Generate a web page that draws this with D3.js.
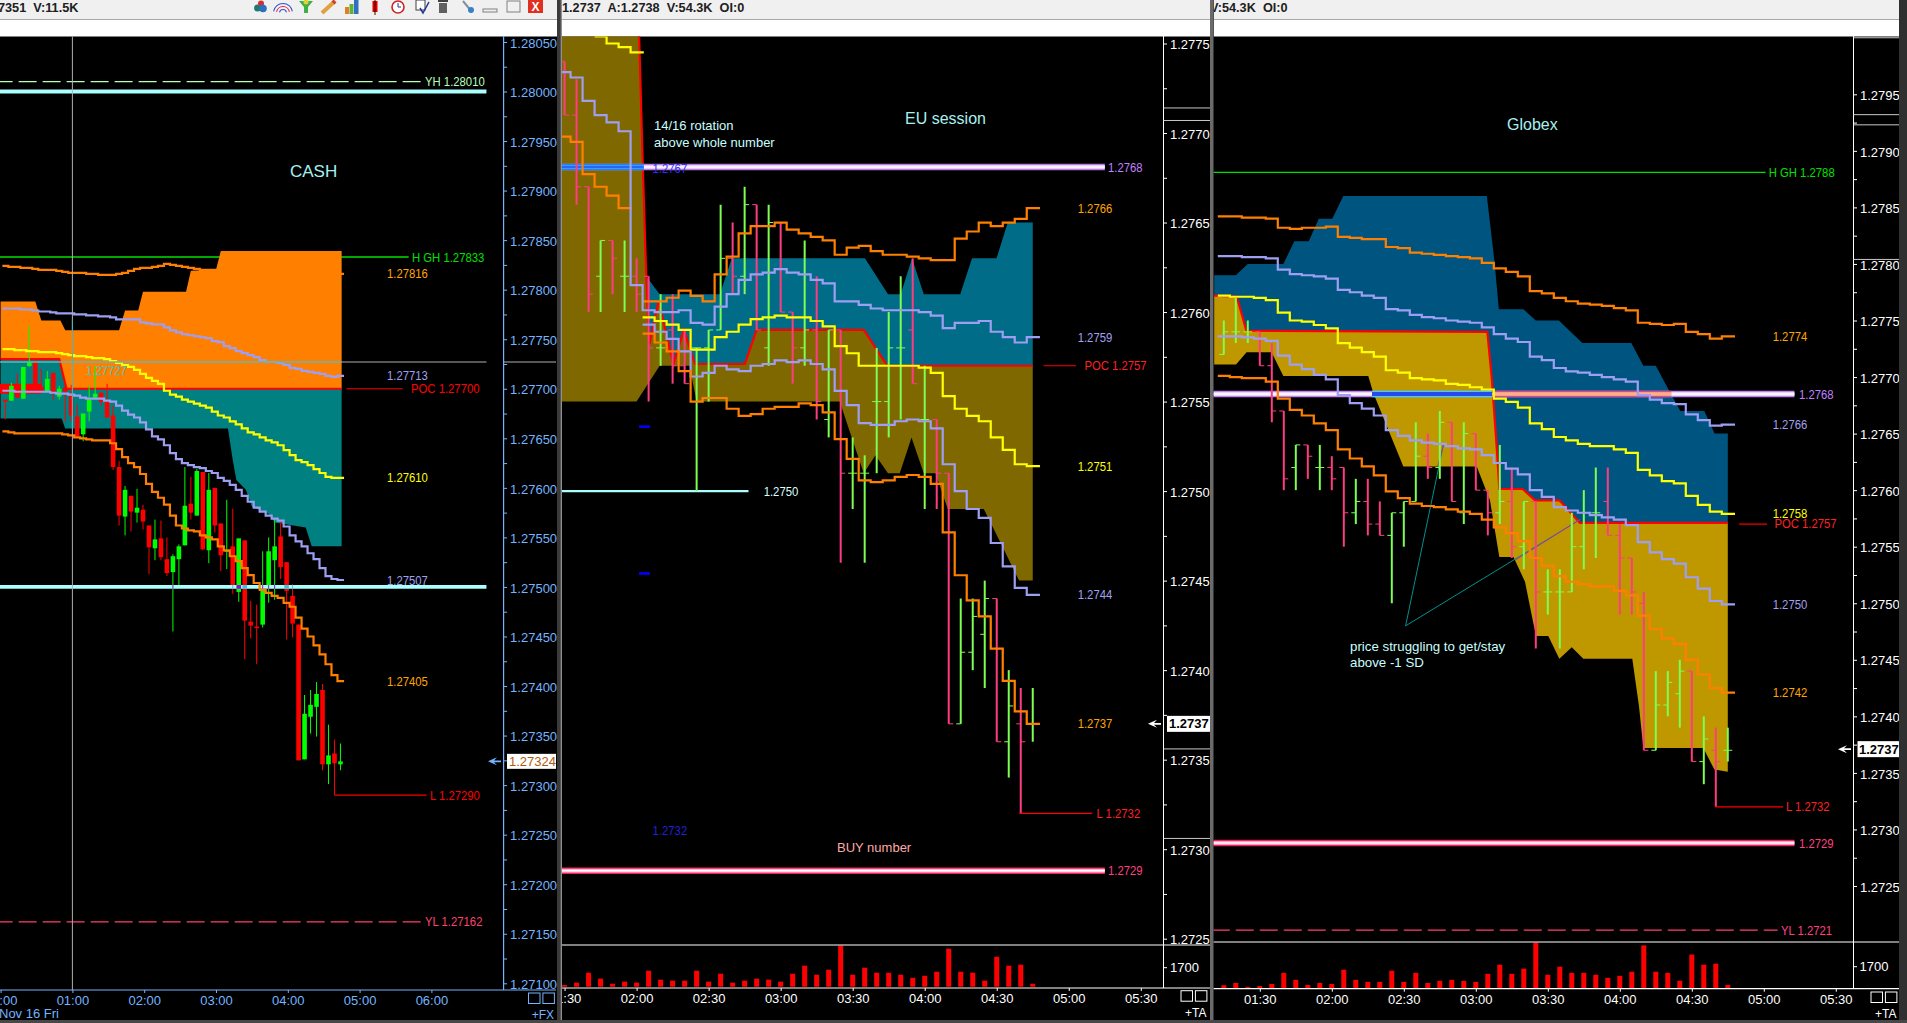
<!DOCTYPE html>
<html>
<head>
<meta charset="utf-8">
<title>EURUSD sessions</title>
<script src="https://cdn.jsdelivr.net/npm/d3@7"></script>
<style>
html, body { margin: 0; padding: 0; background: #000; overflow: hidden; }
svg { display: block; }
text { font-family: "Liberation Sans", Arial, sans-serif; }
</style>
</head>
<body>
<div id="chart"></div>
<script>
// ---- CASH panel (5 min candles, open high low close)
var cashBars = [
[1.27689,1.27689,1.27669,1.27687],[1.27688,1.27706,1.27688,1.27703],[1.27704,1.27715,1.27691,1.27691],[1.27690,1.27722,1.27690,1.27722],
[1.27723,1.27763,1.27722,1.27727],[1.27727,1.27730,1.27702,1.27702],[1.27702,1.27720,1.27697,1.27697],[1.27697,1.27718,1.27697,1.27710],
[1.27716,1.27716,1.27689,1.27697],[1.27692,1.27703,1.27689,1.27700],[1.27701,1.27702,1.27667,1.27697],[1.27693,1.27704,1.27667,1.27673],
[1.27672,1.27684,1.27652,1.27652],[1.27654,1.27675,1.27647,1.27675],[1.27677,1.27703,1.27667,1.27689],[1.27691,1.27723,1.27690,1.27695],
[1.27696,1.27697,1.27683,1.27687],[1.27687,1.27705,1.27671,1.27671],[1.27673,1.27683,1.27618,1.27621],[1.27621,1.27627,1.27562,1.27572],
[1.27571,1.27602,1.27552,1.27598],[1.27592,1.27592,1.27556,1.27576],[1.27575,1.27599,1.27565,1.27580],[1.27578,1.27583,1.27558,1.27566],
[1.27562,1.27562,1.27513,1.27540],[1.27539,1.27568,1.27527,1.27548],[1.27549,1.27567,1.27527,1.27530],[1.27528,1.27550,1.27511,1.27514],
[1.27515,1.27533,1.27455,1.27531],[1.27528,1.27543,1.27501,1.27541],[1.27542,1.27621,1.27542,1.27582],[1.27584,1.27611,1.27568,1.27575],
[1.27572,1.27619,1.27572,1.27617],[1.27616,1.27616,1.27537,1.27538],[1.27537,1.27615,1.27524,1.27598],[1.27600,1.27600,1.27555,1.27562],
[1.27564,1.27564,1.27516,1.27532],[1.27536,1.27588,1.27518,1.27537],[1.27541,1.27579,1.27493,1.27502],[1.27495,1.27549,1.27485,1.27549],
[1.27547,1.27547,1.27427,1.27466],[1.27465,1.27486,1.27448,1.27461],[1.27460,1.27482,1.27422,1.27459],[1.27462,1.27536,1.27459,1.27497],
[1.27501,1.27550,1.27484,1.27536],[1.27527,1.27569,1.27487,1.27541],[1.27551,1.27567,1.27508,1.27520],[1.27525,1.27525,1.27447,1.27496],
[1.27491,1.27503,1.27449,1.27463],[1.27462,1.27462,1.27325,1.27325],[1.27326,1.27391,1.27326,1.27372],[1.27369,1.27396,1.27352,1.27381],
[1.27379,1.27404,1.27349,1.27392],[1.27396,1.27402,1.27315,1.27321],[1.27321,1.27361,1.27301,1.27330],[1.27332,1.27346,1.27290,1.27322],
[1.27321,1.27342,1.27315,1.27324]];
var cashOrangeUp = [1.27824,1.27823,1.27823,1.27822,1.27822,1.27821,1.27820,1.27820,1.27820,1.27819,1.27818,1.27817,1.27817,1.27817,1.27816,1.27816,1.27815,1.27815,1.27815,1.27816,1.27817,1.27819,1.27821,1.27822,1.27822,1.27823,1.27824,1.27826,1.27825,1.27824,1.27823,1.27822,1.27821,1.27820,1.27820,1.27820,1.27820,1.27820,1.27819,1.27819,1.27819,1.27818,1.27818,1.27818,1.27818,1.27817,1.27817,1.27817,1.27817,1.27817,1.27816,1.27816,1.27816,1.27816,1.27816,1.27816,1.27816];
var cashLavUp = [1.27781,1.27781,1.27781,1.27780,1.27780,1.27779,1.27778,1.27778,1.27777,1.27776,1.27776,1.27776,1.27775,1.27775,1.27774,1.27774,1.27773,1.27773,1.27772,1.27770,1.27770,1.27770,1.27770,1.27767,1.27766,1.27765,1.27765,1.27762,1.27759,1.27757,1.27755,1.27754,1.27753,1.27752,1.27751,1.27748,1.27747,1.27743,1.27741,1.27738,1.27736,1.27734,1.27732,1.27729,1.27727,1.27727,1.27726,1.27724,1.27721,1.27720,1.27718,1.27717,1.27716,1.27715,1.27713,1.27712,1.27713];
var cashYellow = [1.27740,1.27740,1.27739,1.27739,1.27738,1.27738,1.27737,1.27737,1.27737,1.27736,1.27735,1.27734,1.27733,1.27733,1.27732,1.27731,1.27731,1.27730,1.27728,1.27726,1.27724,1.27722,1.27719,1.27715,1.27711,1.27708,1.27705,1.27698,1.27694,1.27692,1.27689,1.27687,1.27685,1.27683,1.27681,1.27677,1.27673,1.27671,1.27667,1.27664,1.27660,1.27656,1.27654,1.27651,1.27648,1.27646,1.27643,1.27638,1.27633,1.27628,1.27626,1.27623,1.27619,1.27615,1.27611,1.27610,1.27610];
var cashLavDown = [1.27698,1.27698,1.27697,1.27697,1.27697,1.27697,1.27697,1.27697,1.27696,1.27695,1.27695,1.27694,1.27693,1.27691,1.27690,1.27690,1.27690,1.27688,1.27687,1.27683,1.27678,1.27674,1.27671,1.27666,1.27659,1.27652,1.27649,1.27643,1.27635,1.27629,1.27625,1.27623,1.27621,1.27620,1.27617,1.27615,1.27610,1.27607,1.27603,1.27598,1.27592,1.27586,1.27580,1.27576,1.27572,1.27569,1.27567,1.27561,1.27552,1.27546,1.27541,1.27534,1.27528,1.27519,1.27511,1.27508,1.27507];
var cashOrangeDown = [1.27657,1.27656,1.27655,1.27655,1.27655,1.27655,1.27655,1.27655,1.27655,1.27655,1.27654,1.27653,1.27651,1.27650,1.27649,1.27648,1.27648,1.27648,1.27645,1.27639,1.27631,1.27625,1.27621,1.27614,1.27604,1.27596,1.27590,1.27583,1.27572,1.27562,1.27559,1.27557,1.27556,1.27552,1.27550,1.27548,1.27541,1.27537,1.27531,1.27526,1.27519,1.27512,1.27504,1.27497,1.27494,1.27491,1.27489,1.27484,1.27480,1.27469,1.27458,1.27450,1.27441,1.27432,1.27422,1.27411,1.27405];
// profile band, [minute, price]
var cashBandTop = [[0,1.27788],[29,1.27788],[34,1.27769],[50,1.27769],[54,1.27759],[99,1.27759],[104,1.27779],[115,1.27779],[119,1.27798],[155,1.27798],[159,1.27819],[180,1.2782],[184,1.27839],[285,1.27839]];
var cashBandPoc = [[0,1.2773],[49,1.2773],[55,1.277],[285,1.277]];
var cashBandLow = [[0,1.2767],[51,1.2767],[54,1.2766],[190,1.2766],[194,1.27628],[197,1.27608],[205,1.27598],[210,1.27581],[225,1.27573],[229,1.27565],[255,1.2756],[260,1.27541],[285,1.27541]];
var cashTicks = [1.2805,1.28,1.2795,1.279,1.2785,1.278,1.2775,1.277,1.2765,1.276,1.2755,1.275,1.2745,1.274,1.2735,1.273,1.2725,1.272,1.2715,1.271];
var cashTimes = [0,60,120,180,240,300,360];
var cashTimeLabels = ["00:00","01:00","02:00","03:00","04:00","05:00","06:00"];
var cashLabelText = ["YH 1.28010","H GH 1.27833","1.27816","1.27713","POC 1.27700","1.27610","1.27507","1.27405","L 1.27290","YL 1.27162"];
var cashLabelPrice = [1.2801,1.27833,1.27816,1.27713,1.277,1.2761,1.27507,1.27405,1.2729,1.27162];

// ---- EU session panel
var euBars = [
[1.2774,1.2774,1.2771,1.2771],[1.2771,1.2773,1.2766,1.2767],[1.2767,1.2767,1.2760,1.2761],[1.2762,1.2764,1.2760,1.2764],[1.2764,1.2764,1.2761,1.2763],
[1.2762,1.2764,1.2760,1.2762],[1.2762,1.2763,1.2760,1.2761],[1.2762,1.2762,1.2755,1.2758],[1.2758,1.2761,1.2757,1.2758],[1.2759,1.2761,1.2756,1.2757],
[1.2757,1.2759,1.2756,1.2756],[1.2758,1.2758,1.2750,1.2758],[1.2758,1.2759,1.2755,1.2759],[1.2759,1.2766,1.2759,1.2763],[1.2763,1.2765,1.2761,1.2762],
[1.2762,1.2767,1.2761,1.2766],[1.2766,1.2766,1.2759,1.2759],[1.2758,1.2766,1.2757,1.2765],[1.2765,1.2765,1.2760,1.2760],[1.2760,1.2760,1.2756,1.2758],
[1.2758,1.2764,1.2757,1.2759],[1.2759,1.2762,1.2754,1.2755],[1.2754,1.2759,1.2753,1.2759],[1.2759,1.2759,1.2746,1.2751],[1.2751,1.2753,1.2749,1.2751],
[1.2751,1.2752,1.2746,1.2751],[1.2755,1.2758,1.2751,1.2755],[1.2755,1.2760,1.2753,1.2758],[1.2758,1.2762,1.2754,1.2758],[1.2759,1.2763,1.2756,1.2756],
[1.2754,1.2757,1.2749,1.2754],[1.2754,1.2754,1.2749,1.2751],[1.2751,1.2751,1.2737,1.2737],[1.2737,1.2744,1.2737,1.2741],[1.2741,1.2744,1.2740,1.2743],
[1.2742,1.2745,1.2739,1.2744],[1.2744,1.2744,1.2736,1.2736],[1.2736,1.2740,1.2734,1.2738],[1.2737,1.2739,1.2732,1.2736],[1.2737,1.2739,1.2736,1.2737]];
var euOrangePre = [1.27698,1.27695,1.27677,1.2767,1.27665,1.27658];
var euYellowPre = [1.27754,1.2775,1.27748,1.27745];
var euOrangeUp = [1.27606,1.27606,1.27608,1.27612,1.27609,1.27606,1.27621,1.27631,1.27644,1.27648,1.27648,1.27650,1.27646,1.27644,1.27642,1.27640,1.27632,1.27636,1.27637,1.27634,1.27632,1.27632,1.27631,1.27630,1.27629,1.27629,1.27641,1.27645,1.2765,1.27648,1.2765,1.27652,1.27658];
var euLavUp = [1.27734,1.27731,1.27718,1.2771,1.27706,1.27701,1.27615,1.27601,1.276,1.276,1.27601,1.27594,1.27593,1.27603,1.2761,1.27618,1.27621,1.27622,1.27624,1.27622,1.27621,1.27618,1.27616,1.27606,1.27606,1.27604,1.27602,1.27601,1.27601,1.27601,1.276,1.27598,1.27591,1.27594,1.27594,1.27595,1.27589,1.27586,1.27583,1.27586];
var euYellow = [1.27597,1.27595,1.27593,1.2759,1.27579,1.27579,1.27586,1.27589,1.27593,1.27596,1.27597,1.27598,1.27597,1.27597,1.27595,1.27592,1.27581,1.27577,1.2757,1.27570,1.2757,1.2757,1.2757,1.27569,1.27566,1.27553,1.27546,1.27542,1.27539,1.2753,1.27523,1.27515,1.27514];
var euLavDown = [1.27593,1.27589,1.27585,1.27578,1.27564,1.27566,1.2757,1.27568,1.27567,1.2757,1.27571,1.27573,1.27572,1.27573,1.27571,1.27568,1.27556,1.27548,1.27538,1.27537,1.27537,1.27539,1.2754,1.27539,1.27535,1.27515,1.275,1.2749,1.27485,1.27471,1.27458,1.27446,1.27442];
var euOrangeDown = [1.27588,1.27583,1.27578,1.27567,1.2755,1.27552,1.27552,1.27546,1.27542,1.27543,1.27546,1.27547,1.27547,1.27549,1.27548,1.27544,1.27529,1.27518,1.27506,1.27505,1.27506,1.27508,1.27509,1.27508,1.27504,1.27477,1.27453,1.27439,1.2743,1.27412,1.27394,1.27377,1.2737];
var euBandTop = [[88,1.2778],[120.5,1.2778],[122.6,1.27681],[124,1.2762],[129.6,1.2761],[154.7,1.2761],[159.6,1.2763],[215.1,1.2763],[224.7,1.2761],[230,1.2761],[234.7,1.2763],[239.6,1.2761],[254.8,1.2761],[259.7,1.2763],[269.9,1.2763],[274.6,1.2765],[285,1.2765]];
var euBandPoc = [[88,1.2778],[120.5,1.2778],[122.6,1.27681],[124,1.2762],[125.3,1.27582],[129.2,1.27606],[135.3,1.27571],[139.7,1.2759],[144.3,1.27571],[165.1,1.27571],[170,1.2759],[214.6,1.2759],[224.4,1.2757],[285,1.2757]];
var euBandLow = [[88,1.2755],[120,1.2755],[129.6,1.2757],[142,1.2757],[145,1.2755],[204.6,1.2755],[214.6,1.2751],[219.5,1.2752],[224.7,1.2751],[229.6,1.2751],[234.5,1.2753],[239.6,1.2751],[244.5,1.2751],[249.6,1.2749],[264.6,1.2749],[272,1.2747],[279.3,1.2745],[285,1.2745]];
var euVolume = [150,360,1250,720,270,450,360,1430,630,540,540,1430,450,1160,360,540,720,630,450,1160,1880,1070,1520,3670,1070,1700,1250,1250,1070,800,980,1340,3400,1340,1250,540,2680,1880,1970,270];
var euPivots = [1.27536,1.27454];
var euTicks = [1.2775,1.277,1.2765,1.276,1.2755,1.275,1.2745,1.274,1.2735,1.273,1.2725];
var euTimes = [90,120,150,180,210,240,270,300,330];
var euTimeLabels = ["01:30","02:00","02:30","03:00","03:30","04:00","04:30","05:00","05:30"];
var euLabelText = ["1.2768","1.2766","1.2759","POC 1.2757","1.2751","1.2750","1.2744","1.2737","L 1.2732","1.2729"];
var euLabelPrice = [1.27681,1.27658,1.27586,1.2757,1.27514,1.275,1.27442,1.2737,1.27320,1.27288];
var euAxisMarks = [1.27714,1.27707,1.27356,1.27306];

// ---- Globex panel
var gxBars = [
[1.2772,1.2775,1.2772,1.2774],[1.2774,1.2777,1.2773,1.2774],[1.2774,1.2775,1.2773,1.2774],[1.2774,1.2774,1.2771,1.2771],[1.2771,1.2773,1.2766,1.2767],
[1.2767,1.2767,1.2760,1.2761],[1.2762,1.2764,1.2760,1.2764],[1.2764,1.2764,1.2761,1.2763],[1.2762,1.2764,1.2760,1.2762],[1.2762,1.2763,1.2760,1.2761],
[1.2762,1.2762,1.2755,1.2758],[1.2758,1.2761,1.2757,1.2759],[1.2759,1.2761,1.2756,1.2757],[1.2757,1.2759,1.2756,1.2756],[1.2756,1.2758,1.2750,1.2758],
[1.2758,1.2759,1.2755,1.2759],[1.2759,1.2766,1.2759,1.2763],[1.2763,1.2765,1.2761,1.2762],[1.2762,1.2767,1.2761,1.2766],[1.2766,1.2766,1.2759,1.2759],
[1.2758,1.2766,1.2757,1.2765],[1.2765,1.2765,1.2760,1.2760],[1.2760,1.2760,1.2756,1.2758],[1.2758,1.2764,1.2757,1.2759],[1.2759,1.2762,1.2754,1.2755],
[1.2755,1.2759,1.2753,1.2759],[1.2759,1.2759,1.2746,1.2751],[1.2751,1.2753,1.2749,1.2751],[1.2751,1.2753,1.2746,1.2751],[1.2751,1.2758,1.2751,1.2755],
[1.2755,1.2760,1.2753,1.2758],[1.2758,1.2762,1.2754,1.2758],[1.2759,1.2762,1.2756,1.2756],[1.2756,1.2757,1.2749,1.2754],[1.2754,1.2754,1.2749,1.2751],
[1.2750,1.2751,1.2737,1.2737],[1.2737,1.2744,1.2737,1.2741],[1.2741,1.2744,1.2740,1.2743],[1.2742,1.2745,1.2739,1.2744],[1.2744,1.2744,1.2736,1.2736],
[1.2736,1.2740,1.2734,1.2738],[1.2737,1.2739,1.2732,1.2736],[1.2737,1.2739,1.2736,1.2737]];
var gxOrangeUp = [1.27842,1.27842,1.27841,1.27841,1.2784,1.27832,1.27831,1.27832,1.27832,1.27833,1.27824,1.27823,1.27822,1.27822,1.27815,1.27814,1.2781,1.27809,1.27808,1.27807,1.27806,1.27805,1.27801,1.27796,1.27793,1.27789,1.27776,1.27774,1.2777,1.27767,1.27765,1.27764,1.27763,1.27761,1.27759,1.27748,1.27747,1.27746,1.27747,1.2774,1.27738,1.27734,1.27736];
var gxLavUp = [1.27807,1.27807,1.27806,1.27806,1.27805,1.27795,1.27791,1.2779,1.27789,1.27787,1.27777,1.27775,1.27772,1.2777,1.2776,1.27759,1.27755,1.27753,1.27752,1.2775,1.27749,1.27748,1.27744,1.27738,1.27734,1.27731,1.27718,1.27715,1.27708,1.27705,1.27704,1.27702,1.277,1.27698,1.27696,1.27684,1.2768,1.27677,1.27676,1.27667,1.27662,1.27657,1.27658];
var gxYellow = [1.27772,1.27771,1.27771,1.2777,1.27768,1.27757,1.2775,1.27749,1.27746,1.27743,1.2773,1.27726,1.27722,1.27718,1.27706,1.27704,1.27699,1.27698,1.27697,1.27694,1.27693,1.27691,1.27689,1.27681,1.27678,1.27673,1.27659,1.27654,1.27647,1.27644,1.27641,1.27639,1.27639,1.27636,1.27633,1.27618,1.27613,1.27608,1.27606,1.27595,1.27587,1.27581,1.27579];
var gxLavDown = [1.27736,1.27736,1.27735,1.27734,1.27732,1.27719,1.27711,1.27707,1.27702,1.27698,1.27684,1.27677,1.27672,1.27666,1.27653,1.27648,1.27644,1.27642,1.27641,1.27639,1.27637,1.27636,1.27631,1.27624,1.27619,1.27614,1.276,1.27594,1.27585,1.27582,1.2758,1.27578,1.27576,1.27574,1.27569,1.27554,1.27545,1.27539,1.27535,1.27523,1.27513,1.27502,1.27499];
var gxOrangeDown = [1.27701,1.277,1.27699,1.27699,1.27696,1.27681,1.27671,1.27666,1.27659,1.27653,1.27636,1.27628,1.27621,1.27613,1.27599,1.27593,1.27588,1.27586,1.27585,1.27583,1.27581,1.27579,1.27574,1.27567,1.27562,1.27555,1.2754,1.27533,1.27524,1.27519,1.27517,1.27515,1.27515,1.27511,1.27507,1.27489,1.27477,1.27469,1.27464,1.2745,1.27437,1.27425,1.27421];
var gxBandTop = [[71,1.2779],[80,1.2779],[85,1.278],[99.8,1.278],[104.4,1.2782],[110.4,1.2782],[114.6,1.2784],[120.2,1.2784],[124.8,1.2786],[184.6,1.2786],[187.8,1.27802],[189.6,1.2776],[199.8,1.2776],[205,1.2775],[214.6,1.2775],[224.4,1.2773],[244.8,1.2773],[249.8,1.2771],[255,1.2771],[260,1.2769],[265.2,1.2767],[275.2,1.2767],[279.5,1.2765],[285,1.2765]];
var gxBandPoc = [[71,1.27772],[80.4,1.27771],[84.4,1.27741],[184.8,1.2774],[186.6,1.277],[187.7,1.27668],[188.7,1.27638],[189.8,1.27601],[199.5,1.27601],[204.7,1.27591],[214.8,1.27591],[223.4,1.27571],[285,1.27571]];
var gxBandLow = [[71,1.27711],[80.1,1.27711],[84.5,1.27722],[94.9,1.27722],[99.8,1.27701],[135.2,1.27701],[137.3,1.27686],[149.8,1.27621],[180.4,1.27621],[185.9,1.27591],[189.8,1.27541],[195.7,1.27541],[200.5,1.27519],[204,1.27482],[205.1,1.27471],[210.2,1.27471],[214.8,1.27451],[220,1.27461],[224.8,1.27451],[245.2,1.27451],[248,1.27409],[249.8,1.27372],[274.8,1.27372],[279.4,1.27353],[285,1.27351]];
var gxVolume = [220,400,80,160,320,1210,650,240,400,320,1460,650,490,490,1380,490,1210,400,570,650,570,490,1130,1860,1130,1540,3620,1050,1700,1210,1210,1050,810,970,1300,3400,1300,1210,570,2670,1860,1940,240];
var gxTicks = [1.2795,1.279,1.2785,1.278,1.2775,1.277,1.2765,1.276,1.2755,1.275,1.2745,1.274,1.2735,1.273,1.2725];
var gxTimes = [90,120,150,180,210,240,270,300,330];
var gxTimeLabels = ["01:30","02:00","02:30","03:00","03:30","04:00","04:30","05:00","05:30"];
var gxLabelText = ["H GH 1.2788","1.2774","1.2768","1.2766","1.2758","POC 1.2757","1.2750","1.2742","L 1.2732","1.2729","YL 1.2721"];
var gxLabelPrice = [1.27881,1.27736,1.27685,1.27658,1.27579,1.27571,1.27499,1.27421,1.2732,1.27288,1.27211];
var gxAxisMarks = [1.28,1.27932,1.27923,1.27804];
var gxNoteFrom = [150.75,1.2748];
var gxNoteTo = [[166.5,1.2764],[223.4,1.27574]];
var gxNoteOver = [[164.1,1.27621],[196.3,1.27538]];

var W = 1907, H = 1023;
var ORANGE = "#ff8000", LAV = "#9e9ef2", YEL = "#ffff00", RED = "#ff0000", GRN = "#00ff00";
var OHLC_UP = "#7dff52", OHLC_DN = "#ff3c82";

var svg = d3.select("#chart").append("svg").attr("width", W).attr("height", H).style("background", "#000");
var defs = svg.append("defs");

var stepPath = function (xs, ys) {
    return d3.line().x(function (d) { return xs(d[0]); }).y(function (d) { return ys(d[1]); }).curve(d3.curveStep);
};

// one step line per bar, starts half a bar early and runs on half a bar past the end
function drawStep(g, xs, ys, startMin, vals, color) {
    var pts = vals.map(function (v, i) { return [startMin + 5 * i, v]; });
    pts.unshift([startMin - 2.5, vals[0]]);
    pts.push([startMin + 5 * (vals.length - 1) + 3, vals[vals.length - 1]]);
    g.append("path").attr("d", stepPath(xs, ys)(pts)).attr("fill", "none")
        .attr("stroke", color).attr("stroke-width", 2.2);
}

function drawBand(g, xs, ys, upper, lower, color) {
    var poly = upper.concat(lower.slice().reverse());
    g.append("path").attr("fill", color)
        .attr("d", d3.line().x(function (d) { return xs(d[0]); }).y(function (d) { return ys(d[1]); })(poly) + "Z");
}

function drawPoly(g, xs, ys, pts, color, w) {
    g.append("path").attr("fill", "none").attr("stroke", color).attr("stroke-width", w)
        .attr("d", d3.line().x(function (d) { return xs(d[0]); }).y(function (d) { return ys(d[1]); })(pts));
}

function hline(g, xs, ys, m0, m1, p, color, w, dash) {
    g.append("line").attr("x1", xs(m0)).attr("x2", xs(m1)).attr("y1", ys(p)).attr("y2", ys(p))
        .attr("stroke", color).attr("stroke-width", w).attr("stroke-dasharray", dash || null);
}

// thick glowing level, outer colour, mid colour, white core
function glowLevel(g, xs, ys, m0, m1, p, outer, mid) {
    hline(g, xs, ys, m0, m1, p, outer, 6.5);
    hline(g, xs, ys, m0, m1, p, mid, 4);
    hline(g, xs, ys, m0, m1, p, "#fff", 1.6);
}

function putText(g, s, x, y, color, size, anchor) {
    var t = g.append("text").attr("x", x).attr("y", y).attr("dy", "0.35em").attr("fill", color)
        .attr("font-size", size || 13).attr("text-anchor", anchor || "start").text(s);
    // the price labels are tall and narrow on the original screen
    if (!size) {
        t.attr("textLength", t.node().getComputedTextLength() * 0.87).attr("lengthAdjust", "spacingAndGlyphs");
    }
    return t;
}

function drawOhlc(g, xs, ys, startMin, bars) {
    var sel = g.selectAll("g.bar").data(bars).enter().append("g").attr("class", "bar")
        .attr("stroke", function (d) { return d[3] >= d[0] ? OHLC_UP : OHLC_DN; });
    var mx = function (d, i) { return xs(startMin + 5 * i); };
    sel.append("line").attr("x1", mx).attr("x2", mx).attr("stroke-width", 2)
        .attr("y1", function (d) { return ys(d[1]); }).attr("y2", function (d) { return ys(d[2]); });
    sel.append("line").attr("x1", function (d, i) { return mx(d, i) - 4.5; }).attr("x2", mx).attr("stroke-width", 1)
        .attr("y1", function (d) { return ys(d[0]); }).attr("y2", function (d) { return ys(d[0]); });
    sel.append("line").attr("x1", mx).attr("x2", function (d, i) { return mx(d, i) + 4.5; }).attr("stroke-width", 1)
        .attr("y1", function (d) { return ys(d[3]); }).attr("y2", function (d) { return ys(d[3]); });
}

// price axis with a minor tick half way between labels
function priceAxis(g, ys, ticks, fmt, color, ax) {
    var minor = ticks.slice(1).map(function (t, i) { return (t + ticks[i]) / 2; });
    var a = g.append("g").attr("transform", "translate(" + ax + ",0)")
        .call(d3.axisRight(ys).tickValues(ticks.concat(minor)).tickSize(3.5).tickPadding(3)
            .tickFormat(function (t) { return ticks.indexOf(t) >= 0 ? fmt(t) : ""; }));
    a.select(".domain").remove();
    a.selectAll("line").attr("stroke", color);
    a.selectAll("text").attr("fill", color).attr("font-size", 13).attr("y", 1).attr("font-family", '"Liberation Sans", Arial, sans-serif');
    return a;
}

function timeAxis(g, xs, times, labels, color, y) {
    var a = g.append("g").attr("transform", "translate(0," + y + ")")
        .call(d3.axisBottom(xs).tickValues(times).tickSize(3).tickPadding(3)
            .tickFormat(function (t) { return labels[times.indexOf(t)]; }));
    a.select(".domain").remove();
    a.selectAll("line").attr("stroke", color);
    a.selectAll("text").attr("fill", color).attr("font-size", 13).attr("font-family", '"Liberation Sans", Arial, sans-serif');
}

function clipRect(id, x, y, w, h) {
    defs.append("clipPath").attr("id", id).append("rect").attr("x", x).attr("y", y).attr("width", w).attr("height", h);
}

function header(left, right, txt, txtX) {
    clipRect("hd" + left, left, 0, right - left, 40);
    var h = svg.append("g").attr("clip-path", "url(#hd" + left + ")");
    h.append("rect").attr("x", left).attr("y", 0).attr("width", right - left).attr("height", 19).attr("fill", "#f0f0f0");
    h.append("rect").attr("x", left).attr("y", 19).attr("width", right - left).attr("height", 1).attr("fill", "#a8a8a8");
    h.append("rect").attr("x", left).attr("y", 20).attr("width", right - left).attr("height", 16.5).attr("fill", "#fff");
    h.append("text").attr("x", txtX).attr("y", 8).attr("dy", "0.35em").attr("font-size", 12.7).attr("font-weight", "bold")
        .attr("fill", "#202020").attr("xml:space", "preserve").text(txt);
}

function arrow(g, x, y, color) {
    var p = d3.path();
    p.moveTo(x, y); p.lineTo(x + 9, y - 4); p.lineTo(x + 6, y - 0.8); p.lineTo(x + 13, y - 0.8);
    p.lineTo(x + 13, y + 0.8); p.lineTo(x + 6, y + 0.8); p.lineTo(x + 9, y + 4); p.closePath();
    g.append("path").attr("d", p.toString()).attr("fill", color);
}

function boxes(g, x0, y0, color, txt) {
    [x0, x0 + 14.4].forEach(function (x) {
        g.append("rect").attr("x", x).attr("y", y0).attr("width", 11.5).attr("height", 10.5)
            .attr("fill", "none").attr("stroke", color).attr("stroke-width", 1);
    });
    putText(g, txt, x0 + 25.5, y0 + 22, color, 12, "end");
}

// ===================== CASH =====================
(function () {
    var x = d3.scaleLinear().domain([0, 360]).range([0.6, 431.4]);
    var y = d3.scaleLinear().domain([1.271, 1.28]).range([983.3, 91.5]);
    var axisX = 503.6, blue = "#74b4ff";
    header(0, 557, "7351  V:11.5K", -2);
    clipRect("cp1", 0, 36.5, axisX, 990 - 36.5);
    var g = svg.append("g").attr("clip-path", "url(#cp1)");

    hline(g, x, y, -5, 341, cashLabelPrice[1], "#00e000", 1.3);
    drawBand(g, x, y, cashBandTop, cashBandPoc, ORANGE);
    drawBand(g, x, y, cashBandPoc, cashBandLow, "#008080");

    // red block left of the profile
    g.append("rect").attr("x", x(-1)).attr("width", x(34) - x(-1)).attr("y", y(1.27705))
        .attr("height", y(1.27695) - y(1.27705)).attr("fill", RED);
    drawPoly(g, x, y, cashBandPoc, RED, 2.2);

    hline(g, x, y, -5, 351, cashLabelPrice[0], "#b8ffb8", 1.2, "18 6");
    hline(g, x, y, -5, 352, cashLabelPrice[9], "#ff4070", 1.2, "18 6");

    var cx = function (d, i) { return x(4 + 5 * i); };
    var up = function (d) { return d[3] >= d[0]; };
    var c = g.selectAll("g.candle").data(cashBars).enter().append("g").attr("class", "candle");
    c.append("line").attr("x1", cx).attr("x2", cx).attr("stroke-width", 1)
        .attr("stroke", function (d) { return up(d) ? GRN : RED; })
        .attr("y1", function (d) { return y(d[1]); }).attr("y2", function (d) { return y(d[2]); });
    c.append("rect").attr("x", function (d, i) { return cx(d, i) - 2.3; }).attr("width", 4.6)
        .attr("fill", function (d) { return up(d) ? GRN : RED; })
        .attr("y", function (d) { return y(Math.max(d[0], d[3])); })
        .attr("height", function (d) { return Math.max(1.5, y(Math.min(d[0], d[3])) - y(Math.max(d[0], d[3]))); });

    hline(g, x, y, -5, 406, 1.28, "#aaffff", 3.8);
    hline(g, x, y, -5, 406, 1.275, "#aaffff", 3.8);
    // bars that cross the 1.2750 line show through it
    cashBars.forEach(function (d, i) {
        if (d[1] > 1.275 && d[2] < 1.275) {
            var body = Math.max(d[0], d[3]) > 1.275 && Math.min(d[0], d[3]) < 1.275;
            g.append("rect").attr("x", x(4 + 5 * i) - (body ? 2.3 : 0.5)).attr("width", body ? 4.6 : 1)
                .attr("y", y(1.275) - 1.9).attr("height", 3.8)
                .attr("fill", up(d) ? "#a000e0" : "#30c8e0");
        }
    });

    drawStep(g, x, y, 4, cashOrangeUp, ORANGE);
    drawStep(g, x, y, 4, cashLavUp, LAV);
    drawStep(g, x, y, 4, cashYellow, YEL);
    drawStep(g, x, y, 4, cashLavDown, LAV);
    drawStep(g, x, y, 4, cashOrangeDown, ORANGE);

    hline(g, x, y, 289, 336, 1.277, RED, 1.2);
    // L line hangs from the low bar
    g.append("line").attr("x1", x(279)).attr("x2", x(356)).attr("y1", y(1.2729)).attr("y2", y(1.2729)).attr("stroke", RED).attr("stroke-width", 1.3);

    // crosshair
    var crossM = 60, crossP = 1.27727;
    g.append("line").attr("x1", x(crossM)).attr("x2", x(crossM)).attr("y1", 36).attr("y2", 1023).attr("stroke", "#b0b0b0").attr("stroke-width", 1);
    hline(g, x, y, -5, 406, crossP, "#b0b0b0", 1);
    hline(g, x, y, -5, 285, crossP, "#40b8b8", 1);
    g.append("line").attr("x1", x(crossM)).attr("x2", x(crossM)).attr("y1", y(1.2777)).attr("y2", y(1.2766)).attr("stroke", "#40b8b8").attr("stroke-width", 1);
    putText(g, "1.27727", 86, 370, "#50c0b0");

    var lx = [425, 412, 387, 387, 411, 387, 387, 387, 430, 425];
    var lc = ["#b8ffb8", "#00e000", "#ffa500", "#a0a0f0", RED, YEL, "#a0a0f0", "#ffa500", RED, "#ff4070"];
    cashLabelText.forEach(function (s, i) { putText(svg, s, lx[i], y(cashLabelPrice[i]), lc[i]); });
    putText(svg, "CASH", 290, 171, "#a8f0f0", 17);

    // price and time axes
    var ag = svg.append("g");
    ag.append("line").attr("x1", axisX).attr("x2", axisX).attr("y1", 36).attr("y2", 990).attr("stroke", blue).attr("stroke-width", 1.2);
    priceAxis(ag, y, cashTicks, d3.format(".5f"), blue, axisX);
    ag.append("line").attr("x1", axisX).attr("x2", 556).attr("y1", y(crossP)).attr("y2", y(crossP)).attr("stroke", "#b0b0b0");
    ag.append("rect").attr("x", 507).attr("y", y(1.27324) - 7.5).attr("width", 49).attr("height", 15).attr("fill", "#fff");
    putText(ag, "1.27324", 509, y(1.27324), "#b05a10", 13);
    arrow(ag, 488, y(1.27324), blue);
    ag.append("line").attr("x1", 0).attr("x2", 556).attr("y1", 990).attr("y2", 990).attr("stroke", blue).attr("stroke-width", 1.2);
    timeAxis(ag, x, cashTimes, cashTimeLabels, blue, 990);
    putText(ag, "Nov 16 Fri", -1, 1013, blue, 13);
    boxes(ag, 528.5, 993, blue, "+FX");
})();

// ===================== EU session =====================
(function () {
    var x = d3.scaleLinear().domain([120, 330]).range([636.6, 1140.8]);
    var y = d3.scaleLinear().domain([1.2725, 1.2775]).range([938.7, 43.5]);
    var left = 562, axisX = 1163.5;
    header(left, 1210, "1.2737  A:1.2738  V:54.3K  OI:0", left);
    clipRect("cp2", left, 36.5, axisX - left, 945 - 36.5);
    var g = svg.append("g").attr("clip-path", "url(#cp2)");
    drawBand(g, x, y, euBandTop, euBandPoc, "#006c88");
    drawBand(g, x, y, euBandPoc, euBandLow, "#806800");
    drawPoly(g, x, y, euBandPoc, RED, 2.2);

    glowLevel(g, x, y, 85, 315, euLabelPrice[0], "#b878f0", "#e4ccff");
    glowLevel(g, x, y, 85, 123, euLabelPrice[0], "#3078f8", "#30a0ff");
    hline(g, x, y, 85, 123, euLabelPrice[0], "#2868f0", 2);
    glowLevel(g, x, y, 85, 315, euLabelPrice[9], "#f02060", "#ffa0c0");
    hline(g, x, y, 85, 166.6, 1.275, "#a8ffff", 2.4);
    euPivots.forEach(function (p) { hline(g, x, y, 121, 125.6, p, "#0000ff", 2.6); });

    drawOhlc(g, x, y, 90, euBars);

    drawStep(g, x, y, 90, euOrangePre, ORANGE);
    drawStep(g, x, y, 105, euYellowPre, YEL);
    drawStep(g, x, y, 125, euOrangeUp, ORANGE);
    drawStep(g, x, y, 90, euLavUp, LAV);
    drawStep(g, x, y, 125, euYellow, YEL);
    drawStep(g, x, y, 125, euLavDown, LAV);
    drawStep(g, x, y, 125, euOrangeDown, ORANGE);

    hline(g, x, y, 289.5, 303, 1.2757, RED, 1.2);
    hline(g, x, y, 279.4, 309.7, 1.2732, RED, 1.3);

    var lx = [1108, 1077.7, 1077.7, 1084.4, 1077.7, 763.7, 1077.7, 1077.7, 1096.6, 1108];
    var lc = ["#c080ff", "#ffa500", "#a0a0f0", "#ff2020", YEL, "#d8ffff", "#a0a0f0", "#ffa500", "#ff2020", "#ff4080"];
    euLabelText.forEach(function (s, i) { putText(svg, s, lx[i], y(euLabelPrice[i]), lc[i]); });
    putText(svg, "1.2767", 652.6, y(euLabelPrice[0]) + 1, "#3030f0");
    putText(svg, "1.2732", 652.6, 830, "#2020d8");
    putText(svg, "BUY number", 837, 847, "#ffa8a8", 13);
    putText(svg, "14/16 rotation", 654, 125, "#c8ffff", 13);
    putText(svg, "above whole number", 654, 142, "#c8ffff", 13);
    putText(svg, "EU session", 905, 118, "#a8f0f0", 16);

    // volume
    var base = 986.7;
    var v = d3.scaleLinear().domain([0, 1700]).range([base, 967.7]);
    var gv = svg.append("g");
    gv.selectAll("rect").data(euVolume).enter().append("rect")
        .attr("x", function (d, i) { return x(90 + 5 * i) - 2.5; }).attr("width", 5)
        .attr("y", function (d) { return v(d); }).attr("height", function (d) { return base - v(d); })
        .attr("fill", RED);

    var ag = svg.append("g");
    ag.append("line").attr("x1", axisX).attr("x2", axisX).attr("y1", 36).attr("y2", 988).attr("stroke", "#fff");
    priceAxis(ag, y, euTicks, d3.format(".4f"), "#fff", axisX);
    euAxisMarks.forEach(function (p) {
        ag.append("line").attr("x1", axisX).attr("x2", 1210).attr("y1", y(p)).attr("y2", y(p)).attr("stroke", "#c8c8c8");
    });
    ag.append("rect").attr("x", 1167).attr("y", y(1.2737) - 8).attr("width", 43).attr("height", 16).attr("fill", "#fff");
    putText(ag, "1.2737", 1169, y(1.2737), "#000", 13).attr("font-weight", "bold");
    arrow(ag, 1148, y(1.2737), "#fff");
    ag.append("line").attr("x1", left).attr("x2", 1210).attr("y1", 945).attr("y2", 945).attr("stroke", "#fff").attr("stroke-width", 1.2);
    ag.append("line").attr("x1", axisX).attr("x2", axisX + 3.5).attr("y1", v(1700)).attr("y2", v(1700)).attr("stroke", "#fff");
    putText(ag, "1700", 1170, v(1700), "#fff", 13);
    ag.append("line").attr("x1", left).attr("x2", 1210).attr("y1", 988).attr("y2", 988).attr("stroke", "#fff").attr("stroke-width", 1.2);
    clipRect("ct2", left, 985, 1210 - left, 30);
    timeAxis(ag.append("g").attr("clip-path", "url(#ct2)"), x, euTimes, euTimeLabels, "#fff", 988);
    boxes(ag, 1181, 990.7, "#fff", "+TA");
})();

// ===================== Globex =====================
(function () {
    var x = d3.scaleLinear().domain([90, 330]).range([1259.8, 1835.8]);
    var y = d3.scaleLinear().domain([1.2725, 1.2795]).range([886, 94.3]);
    var left = 1213.5, axisX = 1853.5, right = 1899;
    header(left, right, "V:54.3K  OI:0", 1210);
    clipRect("cp3", left, 36.5, axisX - left, 942 - 36.5);
    var g = svg.append("g").attr("clip-path", "url(#cp3)");
    hline(g, x, y, 60, 300.75, gxLabelPrice[0], "#00e000", 1.3);
    drawBand(g, x, y, gxBandTop, gxBandPoc, "#005580");
    drawBand(g, x, y, gxBandPoc, gxBandLow, "#bf9800");
    drawPoly(g, x, y, gxBandPoc, RED, 2.2);

    glowLevel(g, x, y, 60, 312.75, gxLabelPrice[2], "#c080f0", "#e8d4ff");
    glowLevel(g, x, y, 136.75, 187, gxLabelPrice[2], "#40d0f0", "#2050f0");
    hline(g, x, y, 136.75, 187, gxLabelPrice[2], "#2848f0", 2.6);
    glowLevel(g, x, y, 187, 261.4, gxLabelPrice[2], "#d84890", "#ff9878");
    hline(g, x, y, 187, 261.4, gxLabelPrice[2], "#ffb090", 2.6);
    glowLevel(g, x, y, 60, 312.75, gxLabelPrice[9], "#f02060", "#ffa0c0");
    hline(g, x, y, 60, 305.75, gxLabelPrice[10], "#ff4070", 1.2, "18 6");

    // the two note lines, they turn purple where they run over the band
    gxNoteTo.forEach(function (to, i) {
        drawPoly(g, x, y, [gxNoteFrom, to], "#009090", 1);
        drawPoly(g, x, y, [gxNoteOver[i], to], "#b030a0", 1);
    });

    drawOhlc(g, x, y, 75, gxBars);

    drawStep(g, x, y, 75, gxOrangeUp, ORANGE);
    drawStep(g, x, y, 75, gxLavUp, LAV);
    drawStep(g, x, y, 75, gxYellow, YEL);
    drawStep(g, x, y, 75, gxLavDown, LAV);
    drawStep(g, x, y, 75, gxOrangeDown, ORANGE);

    hline(g, x, y, 289.7, 301.3, 1.2757, RED, 1.2);
    hline(g, x, y, 279.8, 308, 1.2732, RED, 1.3);

    var lx = [1768.7, 1772.7, 1799, 1772.7, 1772.7, 1774.4, 1772.7, 1772.7, 1786, 1799, 1781];
    var lc = ["#00e000", "#ffa500", "#c080ff", "#a0a0f0", YEL, "#ff2020", "#a0a0f0", "#ffa500", "#ff2020", "#ff4080", "#ff4080"];
    gxLabelText.forEach(function (s, i) { putText(svg, s, lx[i], y(gxLabelPrice[i]) + (i == 5 ? 1 : 0), lc[i]); });
    putText(svg, "Globex", 1507, 124, "#a8f0f0", 16);
    putText(svg, "price struggling to get/stay", 1350, 646.7, "#c8ffff", 13.3);
    putText(svg, "above -1 SD", 1350, 662.5, "#c8ffff", 13.3);

    var base = 988;
    var v = d3.scaleLinear().domain([0, 1700]).range([base, 966.7]);
    svg.append("g").selectAll("rect").data(gxVolume).enter().append("rect")
        .attr("x", function (d, i) { return x(75 + 5 * i) - 2.5; }).attr("width", 5)
        .attr("y", function (d) { return v(d); }).attr("height", function (d) { return base - v(d); })
        .attr("fill", RED);

    var ag = svg.append("g");
    ag.append("line").attr("x1", axisX).attr("x2", axisX).attr("y1", 36).attr("y2", 989).attr("stroke", "#fff");
    priceAxis(ag, y, gxTicks, d3.format(".4f"), "#fff", axisX);
    gxAxisMarks.forEach(function (p) {
        ag.append("line").attr("x1", axisX).attr("x2", right).attr("y1", y(p)).attr("y2", y(p)).attr("stroke", "#c8c8c8");
    });
    ag.append("rect").attr("x", 1857.5).attr("y", y(1.27371) - 8).attr("width", 41.5).attr("height", 16).attr("fill", "#fff");
    putText(ag, "1.2737", 1859, y(1.27371), "#000", 13).attr("font-weight", "bold");
    arrow(ag, 1838, y(1.27371), "#fff");
    ag.append("line").attr("x1", left).attr("x2", right).attr("y1", 942).attr("y2", 942).attr("stroke", "#fff").attr("stroke-width", 1.2);
    ag.append("line").attr("x1", axisX).attr("x2", axisX + 3.5).attr("y1", v(1700)).attr("y2", v(1700)).attr("stroke", "#fff");
    putText(ag, "1700", 1859.5, v(1700), "#fff", 13);
    ag.append("line").attr("x1", left).attr("x2", right).attr("y1", 988.7).attr("y2", 988.7).attr("stroke", "#fff").attr("stroke-width", 1.2);
    timeAxis(ag, x, gxTimes, gxTimeLabels, "#fff", 988.7);
    boxes(ag, 1871, 992, "#fff", "+TA");
})();

// window borders between the panels
[[557, 3.5, "#3a3a3a"], [560.5, 1.5, "#909090"], [1210, 3.5, "#6a6a6a"], [1899, 8, "#303030"]].forEach(function (b) {
    svg.append("rect").attr("x", b[0]).attr("y", 0).attr("width", b[1]).attr("height", H).attr("fill", b[2]);
});
svg.append("rect").attr("x", 0).attr("y", 1020).attr("width", W).attr("height", 3).attr("fill", "#484848");

// toolbar icons of the first window
var iconX = [260, 283, 306, 329, 352, 375, 398, 421, 443, 468];
iconX.forEach(function (ix, i) {
    var ic = svg.append("g").attr("transform", "translate(" + ix + ",0)");
    if (i === 0) {
        ic.append("circle").attr("cx", -2.5).attr("cy", 8).attr("r", 3.5).attr("fill", "#1e7a70");
        ic.append("circle").attr("cx", 1).attr("cy", 3.5).attr("r", 3).attr("fill", "#d03030");
        ic.append("circle").attr("cx", 3).attr("cy", 8.5).attr("r", 3.8).attr("fill", "#2a70c0");
    } else if (i === 1) {
        [3, 6, 9].forEach(function (r, k) {
            ic.append("path").attr("d", d3.arc()({ innerRadius: r, outerRadius: r + 1, startAngle: -1.4, endAngle: 1.4 }))
                .attr("transform", "translate(0,13)").attr("fill", k === 1 ? "#e02020" : "#3050e0");
        });
    } else if (i === 2) {
        ic.append("path").attr("d", "M-7,1L7,1L2,7L2,13L-2,13L-2,7Z").attr("fill", "#40b040");
        ic.append("circle").attr("cx", 0).attr("cy", 2).attr("r", 2.5).attr("fill", "#e0d040");
    } else if (i === 3) {
        ic.append("line").attr("x1", -7).attr("y1", 13).attr("x2", 6).attr("y2", 1).attr("stroke", "#e0a040").attr("stroke-width", 4);
        ic.append("line").attr("x1", 4).attr("y1", 3).attr("x2", 6).attr("y2", 1).attr("stroke", "#d04030").attr("stroke-width", 4);
    } else if (i === 4) {
        ic.append("rect").attr("x", -7).attr("y", 7).attr("width", 4).attr("height", 7).attr("fill", "#e08020");
        ic.append("rect").attr("x", -2.5).attr("y", 4).attr("width", 4).attr("height", 10).attr("fill", "#60b040");
        ic.append("rect").attr("x", 2).attr("y", 0).attr("width", 4.5).attr("height", 14).attr("fill", "#3070c0");
    } else if (i === 5) {
        ic.append("rect").attr("x", -2.5).attr("y", 1).attr("width", 5).attr("height", 11).attr("fill", "#e00000");
        ic.append("line").attr("x1", 0).attr("x2", 0).attr("y1", 0).attr("y2", 15).attr("stroke", "#400");
    } else if (i === 6) {
        ic.append("circle").attr("cx", 0).attr("cy", 7).attr("r", 6).attr("fill", "#fff").attr("stroke", "#d02020").attr("stroke-width", 1.6);
        ic.append("path").attr("d", "M0,3V7H3").attr("fill", "none").attr("stroke", "#2030a0");
    } else if (i === 7) {
        ic.append("rect").attr("x", -5).attr("y", 0).attr("width", 9).attr("height", 10).attr("fill", "#fff").attr("stroke", "#404040");
        ic.append("path").attr("d", "M-1,8L2,13L8,2").attr("fill", "none").attr("stroke", "#203890").attr("stroke-width", 1.5);
    } else if (i === 8) {
        ic.append("rect").attr("x", -5).attr("y", 0).attr("width", 10).attr("height", 2).attr("fill", "#404040");
        ic.append("rect").attr("x", -4).attr("y", 3).attr("width", 8).attr("height", 10).attr("fill", "#606060");
    } else {
        ic.append("line").attr("x1", -5).attr("y1", 1).attr("x2", 4).attr("y2", 12).attr("stroke", "#8090a0").attr("stroke-width", 2);
        ic.append("circle").attr("cx", 3).attr("cy", 10).attr("r", 3).attr("fill", "#3a80c8");
    }
});
svg.append("rect").attr("x", 483).attr("y", 9).attr("width", 14).attr("height", 3).attr("fill", "none").attr("stroke", "#808080");
svg.append("rect").attr("x", 507).attr("y", 1).attr("width", 13).attr("height", 11).attr("fill", "none").attr("stroke", "#808080");
svg.append("rect").attr("x", 528).attr("y", 0).attr("width", 15).attr("height", 13).attr("fill", "#e03020");
svg.append("text").attr("x", 535.5).attr("y", 7).attr("dy", "0.35em").attr("text-anchor", "middle").attr("fill", "#fff").attr("font-size", 12).attr("font-weight", "bold").text("X");
</script>
</body>
</html>
